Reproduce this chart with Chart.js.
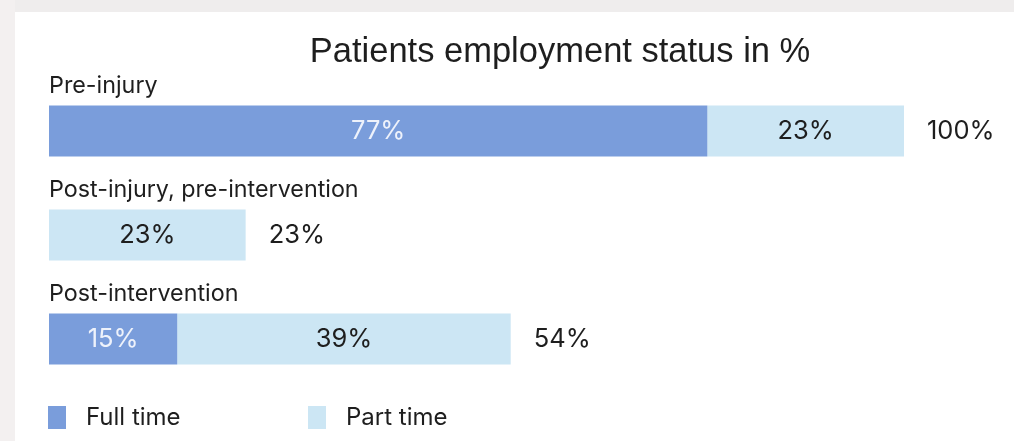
<!DOCTYPE html>
<html>
<head>
<meta charset="utf-8">
<script src="https://cdn.jsdelivr.net/npm/chart.js@4/dist/chart.umd.min.js"></script>
<style>
  html, body { margin: 0; padding: 0; background: #efeded; }
  #wrap { width: 1014px; height: 441px; position: relative; }
</style>
</head>
<body>
<div id="wrap"><canvas id="c" width="1014" height="441"></canvas></div>
<script>
// Employment status of patients, in percent
const chartTitle = 'Patients employment status in %';
const categories = ['Pre-injury', 'Post-injury, pre-intervention', 'Post-intervention'];
const seriesNames = ['Full time', 'Part time'];
const fullTime = [77, null, 15];
const partTime = [23, 23, 39];
const totals = [100, 23, 54];

const COLORS = ['#7a9ddb', '#cce6f4'];
const TEXT = '#1e1e1e';
const TITLE_FONT = '"Liberation Sans", Arial, sans-serif';
const FONT = 'Inter, Roboto, sans-serif';

// page background and white card
const cardBackground = {
  id: 'cardBackground',
  beforeDraw(chart) {
    const ctx = chart.ctx;
    ctx.save();
    ctx.fillStyle = '#efeded';
    ctx.fillRect(0, 0, chart.width, chart.height);
    ctx.fillStyle = '#f3f0f0';
    ctx.fillRect(0, 0, 15, chart.height);
    ctx.fillStyle = '#ffffff';
    ctx.fillRect(15, 12, chart.width - 15, chart.height - 12);
    ctx.restore();
  }
};

// title, row captions, segment values, totals and legend
const annotations = {
  id: 'annotations',
  afterDatasetsDraw(chart) {
    const ctx = chart.ctx;
    const xs = chart.scales.x;
    ctx.save();

    ctx.fillStyle = TEXT;
    ctx.font = '400 34.5px ' + TITLE_FONT;
    ctx.textAlign = 'center';
    ctx.textBaseline = 'alphabetic';
    ctx.fillText(chartTitle, 560, 62);

    const meta0 = chart.getDatasetMeta(0);
    const meta1 = chart.getDatasetMeta(1);
    categories.forEach((cat, i) => {
      const bar = meta1.data[i];
      const top = bar.y - bar.height / 2;
      ctx.font = '400 23.3px ' + FONT;
      ctx.textAlign = 'left';
      ctx.textBaseline = 'alphabetic';
      ctx.fillStyle = TEXT;
      ctx.fillText(cat, xs.left, top - 13);

      ctx.font = '400 25.5px ' + FONT;
      ctx.textBaseline = 'middle';
      ctx.textAlign = 'center';
      if (fullTime[i]) {
        const b = meta0.data[i];
        ctx.fillStyle = '#eef2fb';
        ctx.fillText(fullTime[i] + '%', (b.base + b.x) / 2, b.y);
      }
      if (partTime[i]) {
        ctx.fillStyle = TEXT;
        ctx.fillText(partTime[i] + '%', (bar.base + bar.x) / 2, bar.y);
      }
      ctx.textAlign = 'left';
      ctx.fillStyle = TEXT;
      ctx.fillText(totals[i] + '%', xs.getPixelForValue(totals[i]) + 23, bar.y);
    });

    // legend
    const legendX = [48, 308];
    chart.data.datasets.forEach((ds, k) => {
      ctx.fillStyle = ds.backgroundColor;
      ctx.fillRect(legendX[k], 406, 18, 23);
      ctx.fillStyle = TEXT;
      ctx.font = '400 24px ' + FONT;
      ctx.textAlign = 'left';
      ctx.textBaseline = 'middle';
      ctx.fillText(ds.label, legendX[k] + 38, 418);
    });
    ctx.restore();
  }
};

new Chart(document.getElementById('c'), {
  type: 'bar',
  data: {
    labels: categories,
    datasets: [
      { label: seriesNames[0], data: fullTime, backgroundColor: COLORS[0] },
      { label: seriesNames[1], data: partTime, backgroundColor: COLORS[1] }
    ]
  },
  options: {
    indexAxis: 'y',
    responsive: false,
    animation: false,
    layout: { padding: { left: 49, right: 110, top: 79, bottom: 50 } },
    datasets: { bar: { barThickness: 51, borderWidth: 0, inflateAmount: 0 } },
    scales: {
      x: { stacked: true, min: 0, max: 100, display: false },
      y: { stacked: true, display: false }
    },
    plugins: {
      legend: { display: false },
      tooltip: { enabled: false },
      title: { display: false }
    }
  },
  plugins: [cardBackground, annotations]
});
</script>
</body>
</html>
